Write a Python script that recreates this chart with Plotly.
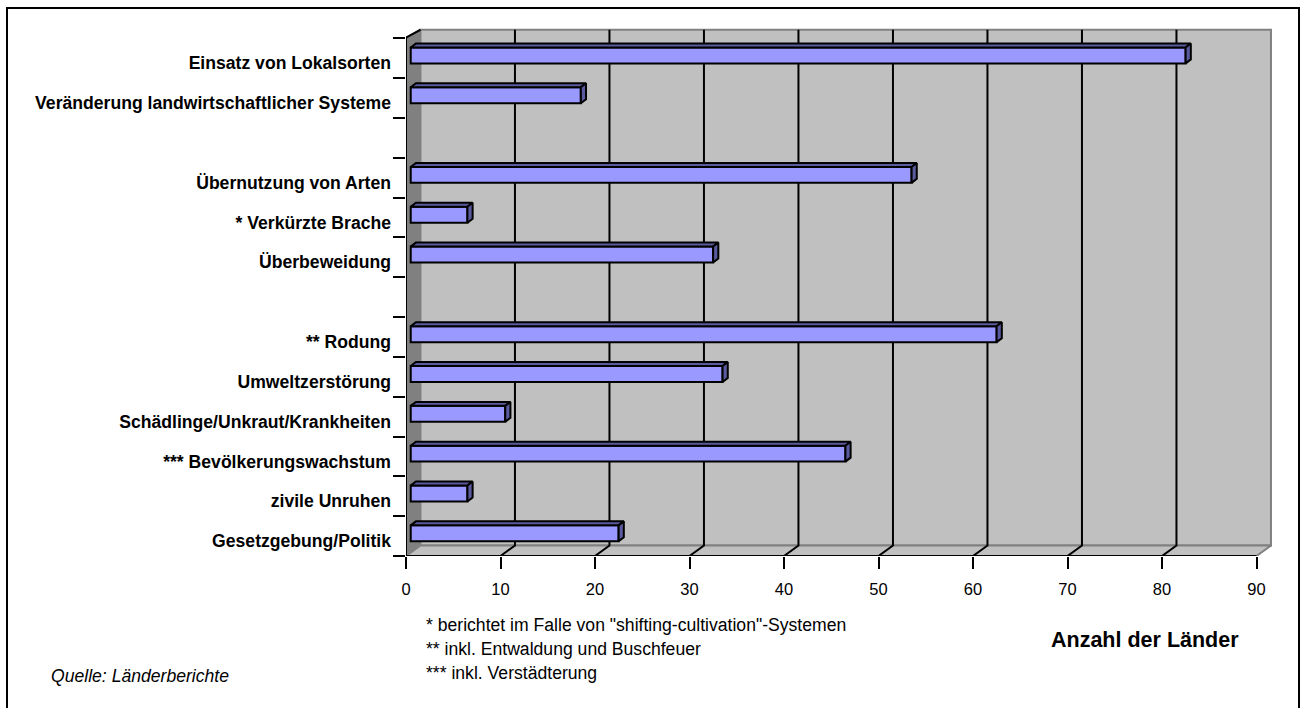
import plotly.graph_objects as go

# Chart content, top row first; empty strings are the spacer rows between groups
categories = [
    "Einsatz von Lokalsorten",
    "Veränderung landwirtschaftlicher Systeme",
    "",
    "Übernutzung von Arten",
    "* Verkürzte Brache",
    "Überbeweidung",
    "",
    "** Rodung",
    "Umweltzerstörung",
    "Schädlinge/Unkraut/Krankheiten",
    "*** Bevölkerungswachstum",
    "zivile Unruhen",
    "Gesetzgebung/Politik",
]
values = [82, 18, None, 53, 6, 32, None, 62, 33, 10, 46, 6, 22]
x_ticks = [0, 10, 20, 30, 40, 50, 60, 70, 80, 90]
footnotes = [
    '* berichtet im Falle von "shifting-cultivation"-Systemen',
    "** inkl. Entwaldung und Buschfeuer",
    "*** inkl. Verstädterung",
]
source_note = "Quelle: Länderberichte"
axis_title = "Anzahl der Länder"

FONT = "Liberation Sans, Arial, sans-serif"
n_rows = len(categories)
x_max = x_ticks[-1]

# Oblique projection, in data units: depth of the box and placement of the bars in it
BOX_DX, BOX_DY = 1.53, 0.265
BAR_DX, BAR_DY = 0.5, 0.07
BAR_DEPTH_X, BAR_DEPTH_Y = 0.55, 0.1
BAR_HEIGHT = 0.4
LABEL_SHIFT = 0.125

rows = [n_rows - 0.5 - i for i in range(n_rows)]
bar_rows = [r + BAR_DY for r, v in zip(rows, values) if v is not None]
bar_values = [v for v in values if v is not None]

fig = go.Figure()


def poly(points, fill, line=None, width=1):
    fig.add_shape(
        type="path",
        xref="x", yref="y", layer="below",
        path="M " + " L ".join(f"{x},{y}" for x, y in points) + " Z",
        fillcolor=fill,
        line=dict(color=line or fill, width=width),
    )


# Walls and floor of the box
wall_top = n_rows + BOX_DY - 0.05
poly([(BOX_DX, BOX_DY), (x_max + BOX_DX, BOX_DY), (x_max + BOX_DX, wall_top),
      (BOX_DX, wall_top)], "#c0c0c0", "#808080", 2)
poly([(0, 0), (BOX_DX, BOX_DY), (x_max + BOX_DX, BOX_DY), (x_max, 0)], "#c0c0c0", "#808080", 2)
poly([(0, 0), (BOX_DX, BOX_DY), (BOX_DX, wall_top), (0, n_rows + 0.02)], "#808080", "#808080", 1)

# Upper edge of the side wall
fig.add_shape(
    type="line", xref="x", yref="y", layer="below",
    x0=0, y0=n_rows + 0.02, x1=BOX_DX, y1=wall_top,
    line=dict(color="black", width=2),
)

# Gridlines run up the back wall and across the floor
for t in x_ticks[1:-1]:
    fig.add_shape(
        type="path", xref="x", yref="y", layer="below",
        path=f"M {t},0 L {t + BOX_DX},{BOX_DY} L {t + BOX_DX},{wall_top}",
        line=dict(color="black", width=2),
    )

# Front faces
fig.add_trace(go.Bar(
    orientation="h",
    x=bar_values,
    y=bar_rows,
    base=BAR_DX,
    width=BAR_HEIGHT,
    marker=dict(color="#9999ff", line=dict(color="black", width=2)),
    hoverinfo="skip",
    showlegend=False,
))

# Top and end faces of each bar
top_x, top_y, side_x, side_y = [], [], [], []
for v, r in zip(bar_values, bar_rows):
    x0, x1 = BAR_DX, BAR_DX + v
    y0, y1 = r - BAR_HEIGHT / 2, r + BAR_HEIGHT / 2
    top_x += [x0, x0 + BAR_DEPTH_X, x1 + BAR_DEPTH_X, x1, x0, None]
    top_y += [y1, y1 + BAR_DEPTH_Y, y1 + BAR_DEPTH_Y, y1, y1, None]
    side_x += [x1, x1 + BAR_DEPTH_X, x1 + BAR_DEPTH_X, x1, x1, None]
    side_y += [y0, y0 + BAR_DEPTH_Y, y1 + BAR_DEPTH_Y, y1, y0, None]
for xs, ys in ((top_x, top_y), (side_x, side_y)):
    fig.add_trace(go.Scatter(
        x=xs, y=ys, mode="lines", fill="toself", fillcolor="#5a5a9e",
        line=dict(color="black", width=2), hoverinfo="skip", showlegend=False,
    ))

# Front axis lines, which stop at the last tick
fig.add_trace(go.Scatter(
    x=[0, 0, x_max], y=[n_rows + 0.02, 0, 0], mode="lines",
    line=dict(color="black", width=2), cliponaxis=False,
    hoverinfo="skip", showlegend=False,
))

fig.update_layout(
    width=1306, height=708,
    margin=dict(l=406, r=34, t=26, b=151.5, autoexpand=False),
    paper_bgcolor="white", plot_bgcolor="white",
    barmode="overlay",
    font=dict(family=FONT, color="black"),
    xaxis=dict(
        range=[0, 866 / 9.45], tickmode="array", tickvals=x_ticks,
        ticks="outside", ticklen=12, tickwidth=2, tickcolor="black",
        tickfont=dict(size=16.5), showgrid=False, zeroline=False, showline=False,
        ticklabelstandoff=6,
    ),
    yaxis=dict(
        range=[0, 530.5 / 39.86], tickmode="array",
        tickvals=[r - LABEL_SHIFT for r in rows], ticktext=categories,
        ticks="", tickfont=dict(size=17.6, weight="bold"),
        showgrid=False, zeroline=False, showline=False,
        ticklabelstandoff=14,
        minor=dict(
            tickmode="array", tickvals=list(range(n_rows + 1)),
            ticks="outside", ticklen=12, tickwidth=2, tickcolor="black", showgrid=False,
        ),
    ),
)

# Outer frame of the figure; its lower edge runs off the page
fig.add_shape(type="rect", xref="paper", yref="paper", layer="above",
              x0=-399 / 866, x1=893 / 866, y0=-160 / 530.5, y1=(530.5 + 18) / 530.5,
              line=dict(color="black", width=2))


def px_note(text, x, y, size, **kw):
    fig.add_annotation(
        xref="paper", yref="paper",
        x=(x - 406) / 866, y=(556.5 - y) / 530.5,
        xanchor="left", yanchor="middle", showarrow=False,
        text=text, font=dict(size=size, family=FONT, **kw),
    )


for note, y in zip(footnotes, (625.5, 649.5, 673.5)):
    px_note(note, 424, y, 17.6)
px_note(source_note, 49, 677, 17.6, style="italic")
px_note(axis_title, 1049, 641, 21.5, weight="bold")

fig.write_html("out.html")
